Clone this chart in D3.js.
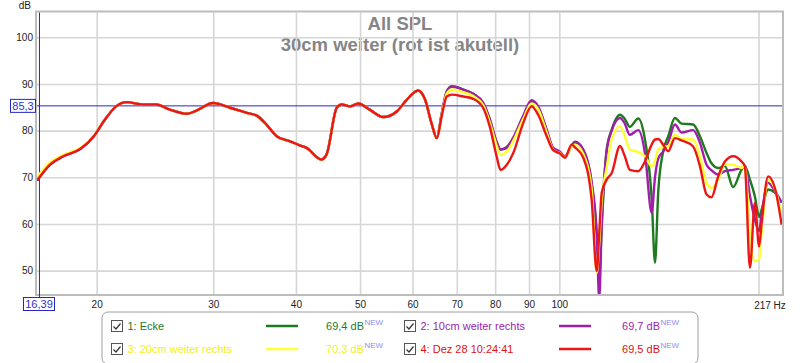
<!DOCTYPE html>
<html>
<head>
<meta charset="utf-8">
<script src="https://cdn.jsdelivr.net/npm/d3@7"></script>
<style>
	body { margin: 0; background: #fff; }
	svg { display: block; font-family: "Liberation Sans", Arial, sans-serif; }
</style>
</head>
<body>
<svg width="800" height="363"></svg>
<script>
// frequencies (Hz)
var freq = [16.25, 17.0, 17.8, 18.9, 19.8, 20.5, 21.4, 22.2, 23.5, 24.6, 25.8, 27.4, 28.3, 30.0, 31.8, 33.7, 34.9, 36.1, 37.4, 39.2,
	40.6, 41.5, 43.7, 44.5, 46.1, 46.9, 48.3, 49.7, 51.7, 54.2, 56.8, 58.8, 61.2, 62.7, 64.1, 65.3, 66.4,
	67.6, 68.8, 71.6, 74.1, 76.7, 78.5, 80.4, 81.5, 83.3, 85.2,
	88.2, 90.8, 92.9, 95.7, 97.9, 100.2, 102.0, 104.4, 105.6, 108.7,
	111.9, 113.9, 114.9, 115.9, 117.9, 120.0, 123.5, 125.6, 127.8, 131.6,
	134.7, 137.9, 139.5, 141.1, 143.5, 146.1, 149.5, 153.0, 159.3, 163.1,
	166.9, 169.8, 173.8, 177.9, 183.1, 188.5, 190.7, 194.1, 197.4, 200.4,
	202.1, 206.8, 211.7, 216.7];

// SPL (dB) per measurement
var ecke = [69.3, 72.7, 74.5, 76.1, 78.8, 82.0, 85.2, 86.1, 85.6, 85.6, 84.5, 83.6, 84.3, 85.9, 84.9, 83.8, 83.2, 81.3, 78.8, 77.7,
	76.8, 76.3, 73.8, 74.9, 84.9, 85.6, 85.2, 85.8, 84.5, 82.9, 84.1, 86.6, 88.6, 86.6, 81.6, 78.4, 83.5,
	88.4, 89.5, 88.8, 87.9, 85.9, 82.4, 77.5, 75.9, 76.5, 78.4,
	83.0, 86.2, 85.0, 80.0, 76.0, 75.3, 74.4, 76.8, 77.6, 75.9,
	68.8, 58.0, 48.8, 59.5, 75.9, 80.2, 83.4, 82.5, 80.8, 82.6,
	78.1, 65.5, 51.7, 67.0, 75.5, 78.8, 82.7, 81.5, 81.3, 78.8,
	75.2, 73.0, 72.0, 72.4, 67.9, 71.6, 72.4, 69.5, 66.0, 61.5,
	63.0, 67.4, 66.7, 64.6];

var weiter10 = [69.3, 72.7, 74.5, 76.1, 78.8, 82.0, 85.2, 86.1, 85.6, 85.6, 84.5, 83.6, 84.3, 85.9, 84.9, 83.8, 83.2, 81.3, 78.8, 77.7,
	76.8, 76.3, 73.8, 74.9, 84.9, 85.6, 85.2, 85.8, 84.5, 82.9, 84.1, 86.6, 88.6, 86.6, 81.6, 78.4, 83.5,
	88.3, 89.4, 88.8, 87.9, 86.0, 82.5, 77.6, 76.0, 76.3, 78.5,
	83.2, 86.5, 85.2, 80.2, 76.3, 75.5, 74.5, 76.7, 77.5, 75.9,
	69.0, 58.0, 44.0, 60.0, 75.5, 80.0, 82.7, 81.5, 79.1, 80.1,
	75.2, 62.4, 70.0, 74.0, 75.5, 77.5, 81.3, 79.6, 80.1, 77.4,
	72.7, 71.5, 70.6, 71.3, 71.6, 72.0, 72.4, 66.0, 61.0, 58.5,
	62.0, 68.8, 67.0, 64.6];

var weiter20 = [70.0, 73.2, 74.8, 76.3, 78.9, 82.0, 85.2, 86.1, 85.6, 85.6, 84.5, 83.6, 84.3, 85.9, 84.9, 83.8, 83.2, 81.3, 78.8, 77.7,
	76.8, 76.3, 73.8, 74.9, 84.9, 85.6, 85.2, 85.8, 84.5, 82.9, 84.1, 86.6, 88.6, 86.6, 81.6, 78.4, 83.2,
	87.9, 88.8, 88.2, 87.4, 85.5, 81.8, 76.8, 74.8, 75.5, 77.8,
	82.5, 85.8, 84.6, 79.6, 75.9, 75.2, 74.3, 76.5, 77.0, 75.0,
	67.5, 49.5, 56.0, 65.0, 72.0, 78.1, 80.9, 78.8, 75.9, 75.4,
	74.5, 72.4, 73.5, 75.9, 76.5, 76.7, 79.1, 78.2, 78.1, 74.5,
	68.8, 67.7, 69.5, 72.8, 72.7, 72.0, 72.4, 58.0, 52.0, 52.5,
	58.0, 69.5, 67.5, 62.0];

var dez28 = [69.3, 72.7, 74.5, 76.1, 78.8, 82.0, 85.2, 86.1, 85.6, 85.6, 84.5, 83.6, 84.3, 85.9, 84.9, 83.8, 83.2, 81.3, 78.8, 77.7,
	76.8, 76.3, 73.8, 74.9, 84.9, 85.6, 85.2, 85.8, 84.5, 82.9, 84.1, 86.6, 88.6, 86.6, 81.6, 78.4, 83.0,
	87.3, 87.7, 87.3, 86.8, 84.9, 80.9, 74.5, 71.6, 72.7, 75.2,
	81.6, 85.2, 83.4, 78.8, 75.8, 75.1, 74.2, 77.0, 76.4, 74.2,
	65.2, 49.9, 58.0, 66.7, 69.5, 70.9, 76.7, 74.5, 71.6, 71.3,
	73.4, 77.0, 78.1, 78.2, 77.0, 75.6, 78.4, 77.9, 76.6, 72.4,
	66.3, 65.7, 70.2, 73.4, 74.5, 73.4, 72.4, 50.6, 64.5, 55.2,
	60.0, 70.2, 67.7, 59.9];

var names = ["1: Ecke", "2: 10cm weiter rechts", "3: 20cm weiter rechts", "4: Dez 28 10:24:41"];
var levels = ["69,4 dB", "69,7 dB", "70,3 dB", "69,5 dB"];
var colors = ["#1e7a1e", "#a01eaa", "#ffff33", "#ec1616"];
var legendText = ["#1e7a1e", "#a01eaa", "#f0f020", "#e01010"];

var xTicks = [20, 30, 40, 50, 60, 70, 80, 90, 100, 200];
var yTicks = [50, 60, 70, 80, 90, 100];
var cursorF = 16.39, cursorDb = 85.3;

var svg = d3.select("svg");
var pLeft = 37, pRight = 782, pTop = 12.5, pBottom = 294;

var x = d3.scaleLog().domain([16.25, 217]).range([pLeft, pRight]);
var y = d3.scaleLinear().domain([45, 105.3]).range([pBottom, pTop]);

// titles
svg.append("text").attr("x", 400).attr("y", 29.5).attr("text-anchor", "middle")
	.style("font-size", "18.5px").style("font-weight", "bold").attr("fill", "#858585").text("All SPL");
svg.append("text").attr("x", 400).attr("y", 51).attr("text-anchor", "middle")
	.style("font-size", "18.5px").style("font-weight", "bold").attr("fill", "#858585").text("30cm weiter (rot ist akutell)");

// grid + axes
var xAxis = svg.append("g").attr("transform", "translate(0," + pBottom + ")")
	.call(d3.axisBottom(x).tickValues(xTicks).tickSize(-(pBottom - pTop)).tickPadding(7)
		.tickFormat(function(d) { return d == 200 ? "" : d; }));
var yAxis = svg.append("g").attr("transform", "translate(" + pLeft + ",0)")
	.call(d3.axisLeft(y).tickValues(yTicks).tickSize(-(pRight - pLeft)).tickPadding(4));
[xAxis, yAxis].forEach(function(a) {
	a.select(".domain").remove();
	a.selectAll("line").attr("stroke", "#d6d6d6").attr("stroke-width", 1.6);
	a.selectAll("text").attr("fill", "#222").style("font-size", "10px").style("font-family", "'Liberation Sans', Arial, sans-serif");
});
svg.append("text").attr("x", 770).attr("y", 308.5).attr("text-anchor", "middle")
	.style("font-size", "10px").attr("fill", "#222").text("217 Hz");
svg.append("text").attr("x", 31).attr("y", 9).attr("text-anchor", "end")
	.style("font-size", "10px").attr("fill", "#222").text("dB");

// plot frame
svg.append("rect").attr("x", pLeft - 1).attr("y", pTop - 1).attr("width", pRight - pLeft + 2).attr("height", pBottom - pTop + 2)
	.attr("fill", "none").attr("stroke", "#bdbdbd").attr("stroke-width", 2);

svg.append("clipPath").attr("id", "plot")
	.append("rect").attr("x", pLeft).attr("y", pTop).attr("width", pRight - pLeft).attr("height", pBottom - pTop);

// cursor lines
svg.append("line").attr("x1", pLeft).attr("x2", pRight).attr("y1", y(cursorDb)).attr("y2", y(cursorDb))
	.attr("stroke", "#2626c4").attr("stroke-width", 1);
svg.append("line").attr("x1", x(cursorF)).attr("x2", x(cursorF)).attr("y1", pTop).attr("y2", pBottom + 3)
	.attr("stroke", "#2626c4").attr("stroke-width", 1);

// curves
var series = [ecke, weiter10, weiter20, dez28];
var line = d3.line()
	.x(function(d) { return x(d.f); })
	.y(function(d) { return y(d.v); })
	.curve(d3.curveMonotoneX);

svg.append("g").attr("clip-path", "url(#plot)")
	.selectAll("path")
	.data(series)
	.enter()
	.append("path")
	.attr("d", function(s) { return line(s.map(function(v, i) { return {f: freq[i], v: v}; })); })
	.attr("fill", "none")
	.attr("stroke", function(s, i) { return colors[i]; })
	.attr("stroke-width", 2.4)
	.attr("stroke-linejoin", "round");

// cursor value boxes
function cursorBox(cx, cy, w, label) {
	svg.append("rect").attr("x", cx).attr("y", cy).attr("width", w).attr("height", 13)
		.attr("fill", "#fff").attr("stroke", "#2626c4").attr("stroke-width", 1);
	svg.append("text").attr("x", cx + w / 2).attr("y", cy + 10.5).attr("text-anchor", "middle")
		.style("font-size", "11px").attr("fill", "#3030d8").text(label);
}
cursorBox(10.5, y(cursorDb) - 6.5, 25, "85,3");
cursorBox(23.5, 297.5, 31, "16,39");

// legend
svg.append("rect").attr("x", 102).attr("y", 312).attr("width", 596).attr("height", 52).attr("rx", 6)
	.attr("fill", "none").attr("stroke", "#a0a0a0");

var colX = [111, 404], rowY = [326, 349], valX = [364, 660];
names.forEach(function(n, i) {
	var cx = colX[i % 2], cy = rowY[Math.floor(i / 2)], vx = valX[i % 2];
	svg.append("rect").attr("x", cx + 0.5).attr("y", cy - 5.5).attr("width", 11).attr("height", 11)
		.attr("fill", "#fff").attr("stroke", "#555");
	svg.append("path").attr("d", "M" + (cx + 2.5) + "," + (cy + 0.5) + "L" + (cx + 5) + "," + (cy + 3) + "L" + (cx + 9.5) + "," + (cy - 2.5))
		.attr("fill", "none").attr("stroke", "#333").attr("stroke-width", 1.2);
	svg.append("text").attr("x", cx + 16.5).attr("y", cy + 4).style("font-size", "11px")
		.attr("fill", legendText[i]).text(n);
	svg.append("line").attr("x1", cx + 155).attr("x2", cx + 187).attr("y1", cy).attr("y2", cy)
		.attr("stroke", colors[i]).attr("stroke-width", 2.5);
	svg.append("text").attr("x", vx).attr("y", cy + 4).attr("text-anchor", "end").style("font-size", "11px")
		.attr("fill", legendText[i]).text(levels[i]);
	svg.append("text").attr("x", vx + 0.5).attr("y", cy - 1).style("font-size", "8px")
		.attr("fill", "#8c8cf0").text("NEW");
});
</script>
</body>
</html>
